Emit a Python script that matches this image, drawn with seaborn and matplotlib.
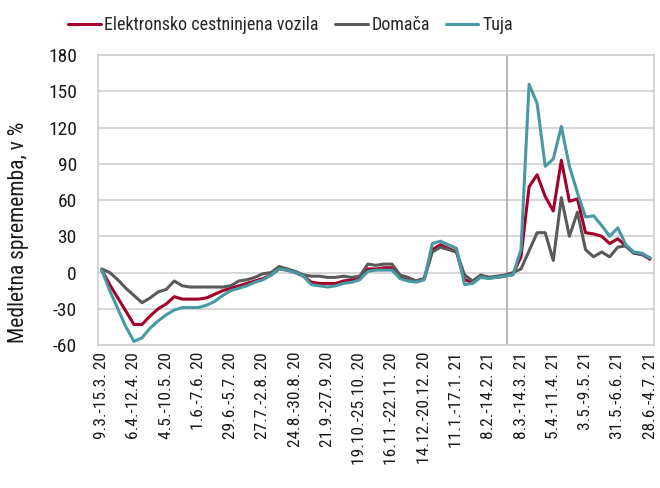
#!/usr/bin/env python3
# Weekly year-on-year change of toll-road vehicle traffic (domestic vs foreign).

import pandas as pd
import seaborn as sns
import matplotlib.pyplot as plt

SERIES_ORDER = ["Elektronsko cestninjena vozila", "Domača", "Tuja"]
PALETTE = {
    "Elektronsko cestninjena vozila": "#A3002A",
    "Domača": "#5A5A5A",
    "Tuja": "#4799A3",
}

# one value per week, 9.3.-15.3.20 ... 28.6.-4.7.21
ELEKTRONSKO = [
    2, -10, -21, -32, -43, -43, -36, -30, -26, -20, -22, -22, -22,
    -21, -18, -15, -13, -11, -9, -7, -5, -2, 3, 2, 0,
    -3, -8, -9, -9, -9, -7, -6, -5, 3, 3, 4, 4, -4,
    -6, -7, -5, 19, 23, 20, 17, -6, -8, -3, -4, -4, -3, -1,
    13, 71, 81, 63, 51, 93, 59, 61, 33, 32, 30, 24, 28, 22, 16, 15, 11,
]
DOMACA = [
    3, 0, -6, -13, -19, -25, -21, -16, -14, -7, -11, -12, -12,
    -12, -12, -12, -11, -7, -6, -4, -1, 0, 5, 3, 1,
    -2, -3, -3, -4, -4, -3, -4, -3, 7, 6, 7, 7, -2,
    -4, -7, -5, 17, 21, 19, 17, -2, -7, -2, -4, -3, -2, 0,
    3, 18, 33, 33, 10, 62, 30, 50, 19, 13, 17, 13, 21, 22, 16, 15, 12,
]
TUJA = [
    2, -15, -30, -45, -57, -54, -46, -40, -35, -31, -29, -29, -29,
    -27, -24, -19, -15, -13, -11, -8, -6, -2, 3, 2, 0,
    -3, -10, -11, -12, -11, -9, -8, -6, 1, 2, 2, 2, -5,
    -7, -8, -6, 24, 26, 23, 20, -10, -9, -4, -5, -4, -3, -2,
    19, 156, 140, 88, 94, 121, 88, 66, 46, 47, 39, 30, 37, 23, 17, 16, 12,
]

# every 4th week is labelled
TICK_LABELS = [
    "9.3.-15.3. 20", "6.4.-12.4. 20", "4.5.-10.5. 20", "1.6.-7.6. 20",
    "29.6.-5.7. 20", "27.7.-2.8. 20", "24.8.-30.8. 20", "21.9.-27.9. 20",
    "19.10.-25.10. 20", "16.11.-22.11. 20", "14.12.-20.12. 20",
    "11.1.-17.1. 21", "8.2.-14.2. 21", "8.3.-14.3. 21", "5.4.-11.4. 21",
    "3.5.-9.5. 21", "31.5.-6.6. 21", "28.6.-4.7. 21",
]
TICK_STEP = 4
SPLIT_WEEK = 50.3  # vertical marker before the March 2021 jump

Y_TICKS = [-60, -30, 0, 30, 60, 90, 120, 150, 180]


def main():
    n = len(ELEKTRONSKO)
    frames = []
    for name, vals in zip(SERIES_ORDER, [ELEKTRONSKO, DOMACA, TUJA]):
        frames.append(pd.DataFrame({"week": range(n), "value": vals, "series": name}))
    df = pd.concat(frames, ignore_index=True)

    sns.set_theme(style="white")
    plt.rcParams["font.family"] = ["Roboto Condensed", "Lato", "DejaVu Sans"]
    plt.rcParams["axes.unicode_minus"] = False

    fig = plt.figure(figsize=(6.6, 4.88), dpi=100)
    ax = fig.add_axes([0.148, 0.293, 0.843, 0.594])

    sns.lineplot(
        data=df, x="week", y="value", hue="series",
        hue_order=SERIES_ORDER, palette=PALETTE,
        linewidth=2.2, ax=ax, legend=True,
    )

    ax.axvline(SPLIT_WEEK, color="#a0a0a0", lw=1.1, zorder=1)

    ax.set_xlim(-0.5, n - 0.5)
    ax.set_ylim(-60, 180)
    ax.set_yticks(Y_TICKS)
    ax.set_yticklabels([str(v) for v in Y_TICKS], fontsize=14)
    ax.set_xticks(list(range(0, n, TICK_STEP)))
    ax.set_xticklabels(TICK_LABELS, rotation=90, fontsize=12.5, va="top", ha="center")
    ax.tick_params(axis="both", length=0, colors="#1a1a1a")
    ax.tick_params(axis="y", pad=15)
    ax.tick_params(axis="x", pad=5)

    ax.yaxis.grid(True, color="#d0d0d0", lw=1.2)
    ax.set_axisbelow(True)
    for s in ax.spines.values():
        s.set_color("#cfcfcf")
        s.set_linewidth(1.2)

    ax.set_xlabel("")
    ax.set_ylabel("Medletna sprememba, v %", fontsize=15.5, color="#1a1a1a")
    ax.yaxis.set_label_coords(-0.124, 0.39)

    handles, labels = ax.get_legend_handles_labels()
    ax.get_legend().remove()
    fig.legend(
        handles, labels, loc="upper center", bbox_to_anchor=(0.44, 1.0),
        ncol=3, frameon=False, fontsize=13, handlelength=1.8,
        handletextpad=0.2, columnspacing=0.9,
    )

    fig.savefig("out.png", dpi=100)


if __name__ == "__main__":
    main()
